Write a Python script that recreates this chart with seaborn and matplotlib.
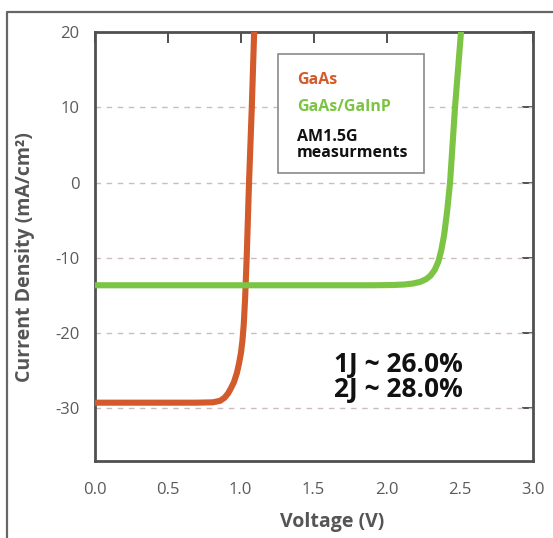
import matplotlib
matplotlib.use("Agg")
import matplotlib.pyplot as plt
from matplotlib.lines import Line2D
from matplotlib.patches import Rectangle
import pandas as pd
import seaborn as sns

# J-V curves read as (voltage, current density) pairs
gaas_v = [0.0, 0.40, 0.70, 0.81, 0.86, 0.89, 0.915, 0.935, 0.955, 0.975,
          0.99, 1.003, 1.013, 1.022, 1.031, 1.042, 1.058, 1.077, 1.094]
gaas_j = [-29.25, -29.25, -29.25, -29.2, -29.0, -28.6, -28.0, -27.3, -26.5, -25.3,
          -24.0, -22.6, -21.0, -18.8, -15.5, -10.0, 0.0, 10.0, 20.5]

tandem_v = [0.0, 1.00, 1.90, 2.04, 2.12, 2.18, 2.23, 2.27, 2.30, 2.33,
            2.355, 2.375, 2.395, 2.415, 2.435, 2.469, 2.512]
tandem_j = [-13.65, -13.65, -13.65, -13.62, -13.55, -13.42, -13.2, -12.85, -12.4, -11.6,
            -10.5, -9.0, -6.9, -3.8, 0.0, 10.0, 20.5]

series_names = ["GaAs", "GaAs/GaInP"]
series_colors = ["#d35a2a", "#7cc443"]

x_ticks = [0.0, 0.5, 1.0, 1.5, 2.0, 2.5, 3.0]
y_ticks = [-30, -20, -10, 0, 10, 20]
efficiency_lines = ["1J ~ 26.0%", "2J ~ 28.0%"]

sns.set_style("white")
plt.rcParams["font.family"] = ["Open Sans", "DejaVu Sans"]

fig = plt.figure(figsize=(5.53, 5.38), dpi=100)
ax = fig.add_axes([0.171, 0.1431, 0.792, 0.7974])

df = pd.concat([
    pd.DataFrame({"V": gaas_v, "J": gaas_j, "cell": series_names[0]}),
    pd.DataFrame({"V": tandem_v, "J": tandem_j, "cell": series_names[1]}),
])
sns.lineplot(data=df, x="V", y="J", hue="cell", palette=series_colors,
             estimator=None, sort=False, linewidth=4.4, legend=False, ax=ax,
             zorder=3)
for ln in ax.get_lines():
    ln.set_solid_capstyle("butt")
    ln.set_solid_joinstyle("round")

ax.set_xlim(0, 3.0)
ax.set_ylim(-37, 20)
ax.set_xticks(x_ticks)
ax.set_xticklabels([f"{t:.1f}" for t in x_ticks])
ax.set_yticks(y_ticks)
ax.set_yticklabels([str(t) for t in y_ticks])

# dashed horizontal guides
for y in y_ticks[:-1]:
    ax.axhline(y, color="#cdbcbc", lw=1.0, ls=(0, (4, 4)), zorder=1)

for side in ["left", "right", "top", "bottom"]:
    ax.spines[side].set_visible(True)
    ax.spines[side].set_color("#505050")
    ax.spines[side].set_linewidth(2.0)

ax.tick_params(axis="both", direction="in", length=8, width=1.4,
               color="#505050", labelcolor="#5a5a5a", labelsize=12,
               top=True, right=True)
ax.tick_params(axis="x", pad=15)
ax.tick_params(axis="y", pad=11)

ax.set_xlabel("Voltage (V)", fontsize=14, fontweight="bold", color="#555555")
ax.set_ylabel("Current Density (mA/cm²)", fontsize=14, fontweight="bold",
              color="#555555")
ax.xaxis.set_label_coords(0.542, -0.118)
ax.yaxis.set_label_coords(-0.137, 0.476)

# key box
ax.add_patch(Rectangle((0.419, 0.671), 0.333, 0.278, transform=ax.transAxes,
                       facecolor="white", edgecolor="#8a8a8a", lw=1.2,
                       zorder=4))
key_style = dict(transform=ax.transAxes, fontsize=11.5, fontweight="bold",
                 va="center", ha="left", zorder=5)
ax.text(0.462, 0.888, series_names[0], color=series_colors[0], **key_style)
ax.text(0.462, 0.825, series_names[1], color=series_colors[1], **key_style)
ax.text(0.462, 0.755, "AM1.5G", color="#111111", **key_style)
ax.text(0.462, 0.718, "measurments", color="#111111", **key_style)

eff_style = dict(transform=ax.transAxes, color="#111111", fontsize=19,
                 fontweight="bold", va="center", ha="left", zorder=5)
ax.text(0.547, 0.226, efficiency_lines[0], **eff_style)
ax.text(0.547, 0.166, efficiency_lines[1], **eff_style)

# outer panel border (left and top edges)
W, H = 553.0, 538.0
fig.add_artist(Line2D([7 / W, 7 / W, 1.0], [0.0, 1 - 12 / H, 1 - 12 / H],
                      transform=fig.transFigure, color="#666666", lw=1.6))

fig.savefig("out.png", dpi=100)
